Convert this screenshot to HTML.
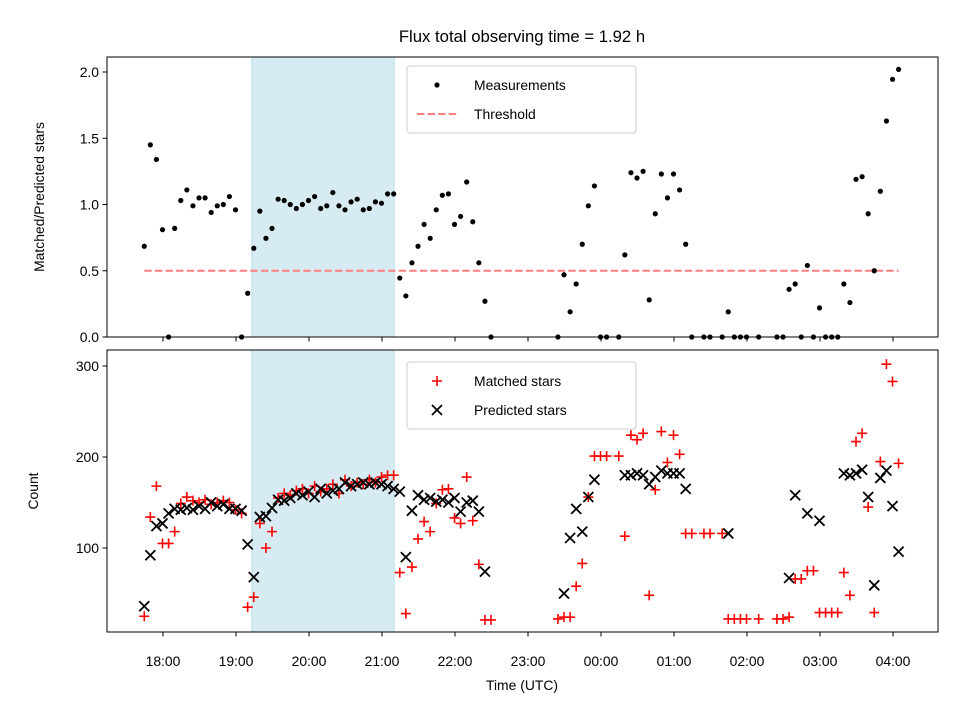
<!DOCTYPE html>
<html><head><meta charset="utf-8"><style>
body{margin:0;background:#fff}
svg{display:block;font-family:"Liberation Sans","DejaVu Sans",sans-serif}
</style></head><body>
<svg id="chart" width="960" height="720" viewBox="0 0 960 720" xmlns="http://www.w3.org/2000/svg">
<rect width="960" height="720" fill="#fff"/>
<text x="522" y="42" font-size="16.7" text-anchor="middle">Flux total observing time = 1.92 h</text>
<g id="topAx"></g>
<g id="botAx"></g>
<text x="522" y="690" font-size="13.9" text-anchor="middle">Time (UTC)</text>
<text transform="translate(44,197) rotate(-90)" font-size="13.9" text-anchor="middle">Matched/Predicted stars</text>
<text transform="translate(38,491) rotate(-90)" font-size="13.9" text-anchor="middle">Count</text>
</svg>
<script>
const START_MIN = -15.4, STEP_MIN = 5;
const xTickLabels = ["18:00","19:00","20:00","21:00","22:00","23:00","00:00","01:00","02:00","03:00","04:00"];
const shadeStartMin = 73, shadeEndMin = 190;
const threshold = 0.5;
const ratioIdx = [0,1,2,3,4,5,6,7,8,9,10,11,12,13,14,15,16,17,18,19,20,21,22,23,24,25,26,27,28,29,30,31,32,33,34,35,36,37,38,39,40,41,42,43,44,45,46,47,48,49,50,51,52,53,54,55,56,57,68,69,70,71,72,73,74,75,76,78,79,80,81,82,83,84,85,86,87,88,89,90,92,93,95,96,97,98,99,101,104,105,106,107,108,109,110,111,112,113,114,115,116,117,118,119,120,121,122,123,124];
const ratioVals = [0.685,1.45,1.34,0.81,0,0.82,1.03,1.11,0.99,1.05,1.05,0.94,0.99,1.0,1.06,0.96,0,0.33,0.67,0.95,0.745,0.82,1.04,1.03,1.0,0.97,1.0,1.03,1.06,0.97,0.99,1.09,0.99,0.96,1.02,1.04,0.96,0.97,1.02,1.01,1.08,1.08,0.445,0.31,0.56,0.685,0.85,0.745,0.96,1.07,1.08,0.85,0.91,1.17,0.87,0.56,0.27,0,
0,0.47,0.19,0.40,0.70,0.99,1.14,0,0,0,0.62,1.24,1.20,1.25,0.28,0.93,1.23,1.05,1.23,1.11,0.70,0,0,0,0,0.19,0,0,0,0,0,0,0.36,0.40,0,0.54,0,0.22,0,0,0,0.40,0.26,1.19,1.21,0.93,0.50,1.10,1.63,1.945,2.02];
const matchedIdx = [0,1,2,3,4,5,6,7,8,9,10,11,12,13,14,15,16,17,18,19,20,21,22,23,24,25,26,27,28,29,30,31,32,33,34,35,36,37,38,39,40,41,42,43,44,45,46,47,48,49,50,51,52,53,54,55,56,57,68,69,70,71,72,73,74,75,76,78,79,80,81,82,83,84,85,86,87,88,89,90,92,93,95,96,97,98,99,101,104,105,106,107,108,109,110,111,112,113,114,115,116,117,118,119,120,121,122,123,124];
const matchedVals = [25,134,168,105,105,118,149,156,152,150,153,148,150,152,150,142,138,35,46,127,100,118,155,160,158,163,165,160,168,162,165,170,160,175,168,172,170,175,172,178,180,180,73,28,79,110,129,118,149,164,165,133,127,178,130,82,21,21,
22,24,24,58,83,156,201,201,201,201,113,224,219,226,48,164,228,194,224,203,116,116,116,116,116,22,22,22,22,22,22,22,24,66,66,75,75,29,29,29,29,73,48,217,226,145,29,195,302,283,193];
const predIdx = [0,1,2,3,4,5,6,7,8,9,10,11,12,13,14,15,16,17,18,19,20,21,22,23,24,25,26,27,28,29,30,31,32,33,34,35,36,37,38,39,40,41,42,43,44,45,46,47,48,49,50,51,52,53,54,55,56,69,70,71,72,73,74,79,80,81,82,83,84,85,86,87,88,89,96,106,107,109,111,115,116,117,118,119,120,121,122,123,124];
const predVals = [36,92,124,127,138,143,142,144,142,146,143,150,146,148,143,143,141,104,68,134,135,144,153,152,155,160,158,162,156,165,160,163,165,172,168,170,172,170,172,170,168,165,162,90,141,158,153,155,151,153,150,155,140,150,152,140,74,
50,111,143,118,156,175,180,180,182,180,170,178,185,182,182,182,165,116,67,158,138,130,182,180,182,186,156,59,177,185,146,96];
const topYTicks = [0,0.5,1.0,1.5,2.0], topYLabels = ["0.0","0.5","1.0","1.5","2.0"];
const botYTicks = [100,200,300];

const NS="http://www.w3.org/2000/svg";
const L=107,R=938;
const xMin = t => 163 + 73*t/60;
const xIdx = i => xMin(START_MIN + STEP_MIN*i);
const yTop = v => 337 - 132.5*v;
const yBot = v => 366 + (300 - v)*0.91;
function mk(p,tag,a){const e=document.createElementNS(NS,tag);for(const k in a)e.setAttribute(k,a[k]);p.appendChild(e);return e;}
const gTop=document.getElementById('topAx'), gBot=document.getElementById('botAx');

function frame(g,y0,y1,name){
  let s=mk(g,'rect',{x:xMin(shadeStartMin),y:y0,width:xMin(shadeEndMin)-xMin(shadeStartMin),height:y1-y0,fill:'#add8e6','fill-opacity':0.5,stroke:'#add8e6','stroke-opacity':0.8});
  
  
}
function box(g,y0,y1,name){
  let b=mk(g,'rect',{x:L,y:y0,width:R-L,height:y1-y0,fill:'none',stroke:'#000','stroke-width':1});
  
  
  xTickLabels.forEach((lab,i)=>{const x=xMin(i*60);mk(g,'line',{x1:x,x2:x,y1:y1,y2:y1+4.5,stroke:'#000'});});
}
frame(gTop,57,337,'top');
frame(gBot,350,632,'bottom');

let th=mk(gTop,'line',{x1:xIdx(0),x2:xIdx(124),y1:yTop(threshold),y2:yTop(threshold),stroke:'#ff7f7f','stroke-width':2,'stroke-dasharray':'7.4,3.2'});



ratioIdx.forEach((idx,k)=>{
  const c=mk(gTop,'circle',{cx:xIdx(idx),cy:yTop(ratioVals[k]),r:2.6,fill:'#000'});
  
  
});
matchedIdx.forEach((idx,k)=>{
  const x=xIdx(idx),y=yBot(matchedVals[k]);
  const p=mk(gBot,'path',{d:`M${x-5},${y}H${x+5}M${x},${y-5}V${y+5}`,stroke:'#f00','stroke-width':1.6,fill:'none'});
  
  
});
predIdx.forEach((idx,k)=>{
  const x=xIdx(idx),y=yBot(predVals[k]);
  const p=mk(gBot,'path',{d:`M${x-5},${y-5}L${x+5},${y+5}M${x-5},${y+5}L${x+5},${y-5}`,stroke:'#000','stroke-width':1.8,fill:'none'});
  
  
});
box(gTop,57,337,'top');
box(gBot,350,632,'bottom');

topYTicks.forEach((v,i)=>{
  const y=yTop(v);
  mk(gTop,'line',{x1:L-4.5,x2:L,y1:y,y2:y,stroke:'#000'});
  const t=mk(gTop,'text',{x:L-8,y:y+5,'font-size':13.9,'text-anchor':'end'});t.textContent=topYLabels[i];
  
  
});
botYTicks.forEach(v=>{
  const y=yBot(v);
  mk(gBot,'line',{x1:L-4.5,x2:L,y1:y,y2:y,stroke:'#000'});
  const t=mk(gBot,'text',{x:L-8,y:y+5,'font-size':13.9,'text-anchor':'end'});t.textContent=v;
  
  
});
xTickLabels.forEach((lab,i)=>{
  const t=mk(gBot,'text',{x:xMin(i*60),y:666,'font-size':13.9,'text-anchor':'middle'});t.textContent=lab;
  
  
});

function legend(g,y0,name,entries){
  const lg=mk(g,'g',{});
  
  
  mk(lg,'rect',{x:407,y:y0,width:229,height:67,rx:3,fill:'#fff','fill-opacity':0.8,stroke:'#ccc'});
  entries.forEach((e,i)=>{
    const y=y0+19+i*29;
    e.draw(lg,437,y);
    const t=mk(lg,'text',{x:474,y:y+5,'font-size':13.9});t.textContent=e.label;
    
    
  });
}
legend(gTop,66,'top-legend',[
  {label:'Measurements',draw:(g,x,y)=>mk(g,'circle',{cx:x,cy:y,r:2.6,fill:'#000'})},
  {label:'Threshold',draw:(g,x,y)=>mk(g,'line',{x1:x-20,x2:x+20,y1:y,y2:y,stroke:'#ff7f7f','stroke-width':2,'stroke-dasharray':'7.4,3.2'})}
]);
legend(gBot,362,'bottom-legend',[
  {label:'Matched stars',draw:(g,x,y)=>mk(g,'path',{d:`M${x-5},${y}H${x+5}M${x},${y-5}V${y+5}`,stroke:'#f00','stroke-width':1.6})},
  {label:'Predicted stars',draw:(g,x,y)=>mk(g,'path',{d:`M${x-5},${y-5}L${x+5},${y+5}M${x-5},${y+5}L${x+5},${y-5}`,stroke:'#000','stroke-width':1.8})}
]);
</script>
</body></html>
